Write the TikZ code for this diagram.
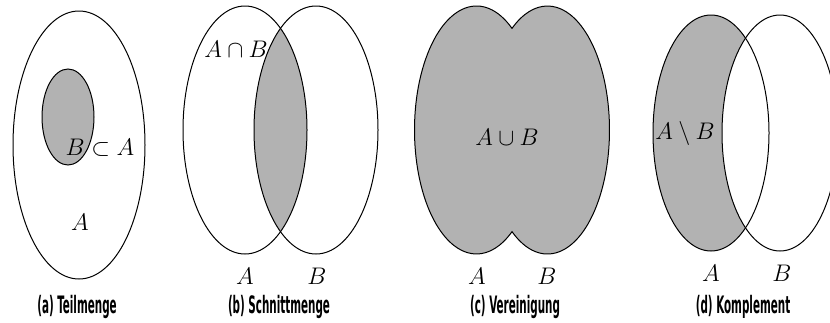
\documentclass[tikz,border=0pt]{standalone}
\usepackage{fontspec}
\usepackage{graphicx}
\newfontfamily\capfont{DejaVu Sans Condensed Bold}
\newcommand{\captext}[1]{\scalebox{0.48}[1]{\capfont\fontsize{12}{14}\selectfont #1}}
\begin{document}
\begin{tikzpicture}[x=0.5pt,y=-0.5pt,
  setline/.style={draw=black,line width=0.5pt},
  shaded/.style={fill=black!30},
  mlabel/.style={inner sep=0pt,font=\fontsize{12}{14}\selectfont},
  caplabel/.style={inner sep=0pt}]
\useasboundingbox (0,0) rectangle (830,322);
% (a) Teilmenge
\draw[setline] (79,145) ellipse [x radius=66, y radius=134];
\draw[setline,shaded] (68,117) ellipse [x radius=26, y radius=48];
\node[mlabel] (lba) at (100,148) {$B\subset A$};
\node[mlabel] (la) at (80,222) {$A$};
\node[caplabel] (capa) at (77,307) {\captext{(a) Teilmenge}};
% (b) Schnittmenge
\begin{scope}
  \clip (245,130) ellipse [x radius=62, y radius=124];
  \fill[black!30] (316,130) ellipse [x radius=62, y radius=124];
\end{scope}
\draw[setline] (245,130) ellipse [x radius=62, y radius=124];
\draw[setline] (316,130) ellipse [x radius=62, y radius=124];
\node[mlabel] (lab) at (236,49) {$A\cap B$};
\node[mlabel] (lbA) at (245,276) {$A$};
\node[mlabel] (lbB) at (317,276) {$B$};
\node[caplabel] (capb) at (279,307) {\captext{(b) Schnittmenge}};
% (c) Vereinigung
\pgfmathsetmacro{\tc}{acos(35.5/62)}
\draw[setline,shaded] (476.5,130) ++({62*cos(\tc)},{-124*sin(\tc)})
  arc[start angle={360-\tc}, end angle={\tc}, x radius=62, y radius=124]
  arc[start angle={180-\tc}, end angle={-180+\tc}, x radius=62, y radius=124]
  -- cycle;
\node[mlabel] (lcu) at (507,137) {$A\cup B$};
\node[mlabel] (lcA) at (477,276) {$A$};
\node[mlabel] (lcB) at (547,276) {$B$};
\node[caplabel] (capc) at (515,307) {\captext{(c) Vereinigung}};
% (d) Komplement
\fill[black!30] (711,133) ellipse [x radius=58, y radius=118];
\fill[white] (780,133) ellipse [x radius=58, y radius=118];
\draw[setline] (711,133) ellipse [x radius=58, y radius=118];
\draw[setline] (780,133) ellipse [x radius=58, y radius=118];
\node[mlabel] (ldm) at (685,133) {$A\setminus B$};
\node[mlabel] (ldA) at (711,273) {$A$};
\node[mlabel] (ldB) at (782,273) {$B$};
\node[caplabel] (capd) at (743,307) {\captext{(d) Komplement}};
\end{tikzpicture}
\end{document}
